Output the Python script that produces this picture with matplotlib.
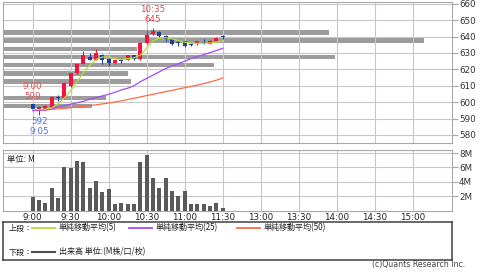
import numpy as np
import matplotlib
matplotlib.use('Agg')
import matplotlib.pyplot as plt

plt.rcParams['font.family'] = ['DejaVu Sans', 'Noto Sans CJK JP']

# 5-minute candles, 9:00 .. 11:30 (slot index = 5 min steps, lunch compressed)
opens = [599, 595.5, 596, 597, 603, 602.5, 610, 617.5, 623.5, 627.5, 626, 628.5, 626.5, 624, 625.5,
         625.7, 628.5, 626.5, 636, 641.5, 643, 640.5, 638.5, 636.5, 637, 635.2, 635.5, 636.5, 635.7, 637.5, 640.5]
highs = [599, 597.5, 598, 603.5, 604.5, 612, 618.5, 624, 631, 630, 632.5, 629.5, 627, 626, 627,
         629, 629, 636.5, 644, 645, 643.5, 641, 639, 638, 637.5, 636, 637.5, 638.3, 638, 640, 641]
lows = [595.5, 592, 595.5, 596.5, 601, 602, 609.5, 617, 623, 625.5, 625.5, 623, 622, 623.5, 624,
        625.5, 626, 626, 635.5, 641, 640, 637.5, 635, 634.5, 633.5, 634.5, 635, 635.4, 635.5, 637, 638.5]
closes = [596, 597, 597.5, 603, 602.5, 611.5, 618, 623.5, 628.5, 626, 630, 626, 624, 625.5, 625,
          628.5, 626.5, 636, 641, 643.5, 640.5, 638.5, 635.5, 636, 634, 635, 637, 636, 637.4, 639.3, 640]
ma5 = [595.5, 595.5, 595.8, 596.5, 599, 602.5, 607, 612.5, 618, 622.5, 626, 627.5, 627.5, 626.5, 626,
       626.5, 627, 628.7, 633, 637.5, 639, 639.3, 638.5, 637.5, 636.5, 636, 635.8, 636, 636, 636.5, 637.5]
ma25 = [594.8, 595, 595.2, 596, 597, 598, 598.8, 599.6, 600.5, 601.8, 602.8, 603.8, 604.8, 606, 607.5,
        608.5, 610, 612.5, 614.5, 616.5, 618.5, 620.5, 622, 623.5, 625, 626.5, 627.8, 629, 630.2, 631.5, 632.8]
ma50 = [595, 595.1, 595.3, 595.6, 595.9, 596.2, 596.6, 597, 597.4, 597.9, 598.4, 598.9, 599.5, 600.1, 600.8,
        601.6, 602.4, 603.2, 604, 604.8, 605.6, 606.4, 607.2, 608, 608.8, 609.6, 610.4, 611.3, 612.3, 613.4, 614.7]
volume = [1.92, 1.45, 1.03, 3.2, 1.78, 6.05, 5.9, 6.83, 6.7, 3.15, 4.17, 2.55, 3.0, 0.95, 1.09,
          0.9, 0.9, 6.7, 7.7, 4.48, 3.15, 4.48, 2.65, 2.0, 2.78, 0.86, 0.95, 0.95, 0.62, 1.09, 0.3]

# price-by-volume profile (M)
prof_price = [597.5, 602.5, 612.5, 617.5, 622.5, 627.5, 632.5, 637.5, 642.5]
prof_vol = [3.4, 3.9, 4.85, 4.75, 8.0, 12.6, 5.1, 16.0, 12.4]

tick_pos = [0, 6, 12, 18, 24, 30, 36, 42, 48, 54, 60]
tick_lab = ['9:00', '9:30', '10:00', '10:30', '11:00', '11:30', '13:00', '13:30', '14:00', '14:30', '15:00']

RED = '#f2143f'
BLUE = '#1d3f9e'
GRID = '#c8c8c8'
C5, C25, C50 = '#b9dc35', '#a64cf2', '#ff6a45'

fig = plt.figure(figsize=(4.8, 2.72), dpi=100)
ax = fig.add_axes([0.00625, 0.4761, 0.9354, 0.518])
axv = fig.add_axes([0.00625, 0.2261, 0.9354, 0.2206])
axl = fig.add_axes([0.00625, 0.0441, 0.9354, 0.1397])

x = np.arange(len(opens))
XL = (-4.7, 66.2)

# volume profile behind the candles
axp = ax.twiny()
axp.barh(prof_price, prof_vol, height=2.7, color='#9c9c9c', zorder=1)
axp.set_xlim(0, 17.06)
axp.set_ylim(575.4, 661.3)
axp.axis('off')

for a in (ax, axv):
    a.set_xlim(*XL)
    for p in tick_pos:
        a.axvline(p, color=GRID, lw=0.8, zorder=0)
    for s in a.spines.values():
        s.set_color('#a8a8a8'); s.set_linewidth(0.8)
    a.set_facecolor('none')

ax.set_zorder(axp.get_zorder() + 1)
ax.set_ylim(575.4, 661.3)
for lv in range(580, 661, 10):
    ax.axhline(lv, color=GRID, lw=0.8, zorder=0)
ax.yaxis.tick_right()
ax.set_yticks(range(580, 661, 10))
ax.tick_params(axis='y', length=4, color='#a8a8a8', labelsize=6.3, labelcolor='#333333', pad=1)
ax.set_xticks([])

o, c, h, l = map(np.array, (opens, closes, highs, lows))
cols = [RED if cc > oo else BLUE for oo, cc in zip(o, c)]
ax.vlines(x, l, h, colors=cols, lw=0.8, zorder=3)
body = np.maximum(np.abs(c - o), 0.35)
ax.bar(x, body, bottom=np.minimum(o, c), width=0.62, color=cols, zorder=4)

ax.plot(x, ma50, color=C50, lw=0.9, zorder=5)
ax.plot(x, ma25, color=C25, lw=0.9, zorder=5)
ax.plot(x, ma5, color=C5, lw=0.9, zorder=5)

ax.annotate('10:35\n645', (19, 645), xytext=(0, 3), textcoords='offset points', ha='center', va='bottom',
            fontsize=6.3, color='#dd4a4a', linespacing=1.15, zorder=6)
ax.annotate('9:00\n599', (0, 599), xytext=(0, 2), textcoords='offset points', ha='center', va='bottom',
            fontsize=6.3, color='#dd5a5a', linespacing=1.15, zorder=6)
ax.annotate('592\n9:05', (1, 592), xytext=(0, -1), textcoords='offset points', ha='center', va='top',
            fontsize=6.3, color='#4a72f0', linespacing=1.15, zorder=6)

# volume panel
axv.set_ylim(0, 8.36)
for lv in (2, 4, 6, 8):
    axv.axhline(lv, color=GRID, lw=0.8, zorder=0)
axv.bar(x, volume, width=0.62, color='#5a5a5a', zorder=3)
axv.yaxis.tick_right()
axv.set_yticks([2, 4, 6, 8])
axv.set_yticklabels(['2M', '4M', '6M', '8M'])
axv.set_xticks(tick_pos)
axv.set_xticklabels(tick_lab)
axv.tick_params(axis='y', length=4, color='#a8a8a8', labelsize=6.3, labelcolor='#333333', pad=1)
axv.tick_params(axis='x', length=0, labelsize=6.3, labelcolor='#222222', pad=2)
axv.text(0.008, 0.93, '単位: M', transform=axv.transAxes, fontsize=6, ha='left', va='top',
         color='#222222', family=['Noto Sans CJK JP', 'DejaVu Sans'])

# legend box
axl.set_xlim(0, 449); axl.set_ylim(38, 0)
axl.set_xticks([]); axl.set_yticks([])
for s in axl.spines.values():
    s.set_color('#404040'); s.set_linewidth(1.1)
jp = ['Noto Sans CJK JP', 'DejaVu Sans']
axl.text(6, 6, '上段：', fontsize=5.8, va='center', family=jp, color='#222222')
axl.text(6, 30, '下段：', fontsize=5.8, va='center', family=jp, color='#222222')
for x0, col, lab in ((29, C5, '単純移動平均(5)'), (126, C25, '単純移動平均(25)'), (234, C50, '単純移動平均(50)')):
    axl.plot([x0, x0 + 23], [6, 6], color=col, lw=1.3)
    axl.text(x0 + 27, 6, lab, fontsize=5.8, va='center', family=jp, color='#222222')
axl.plot([29, 52], [30, 30], color='#505050', lw=1.5)
axl.text(56, 30, '出来高 単位:(M株/口/枚)', fontsize=5.8, va='center', family=jp, color='#222222')

fig.text(0.969, 0.012, '(c)Quants Research Inc.', fontsize=5.6, ha='right', va='bottom', color='#444444')

fig.savefig('out.png', dpi=100, facecolor='white')
